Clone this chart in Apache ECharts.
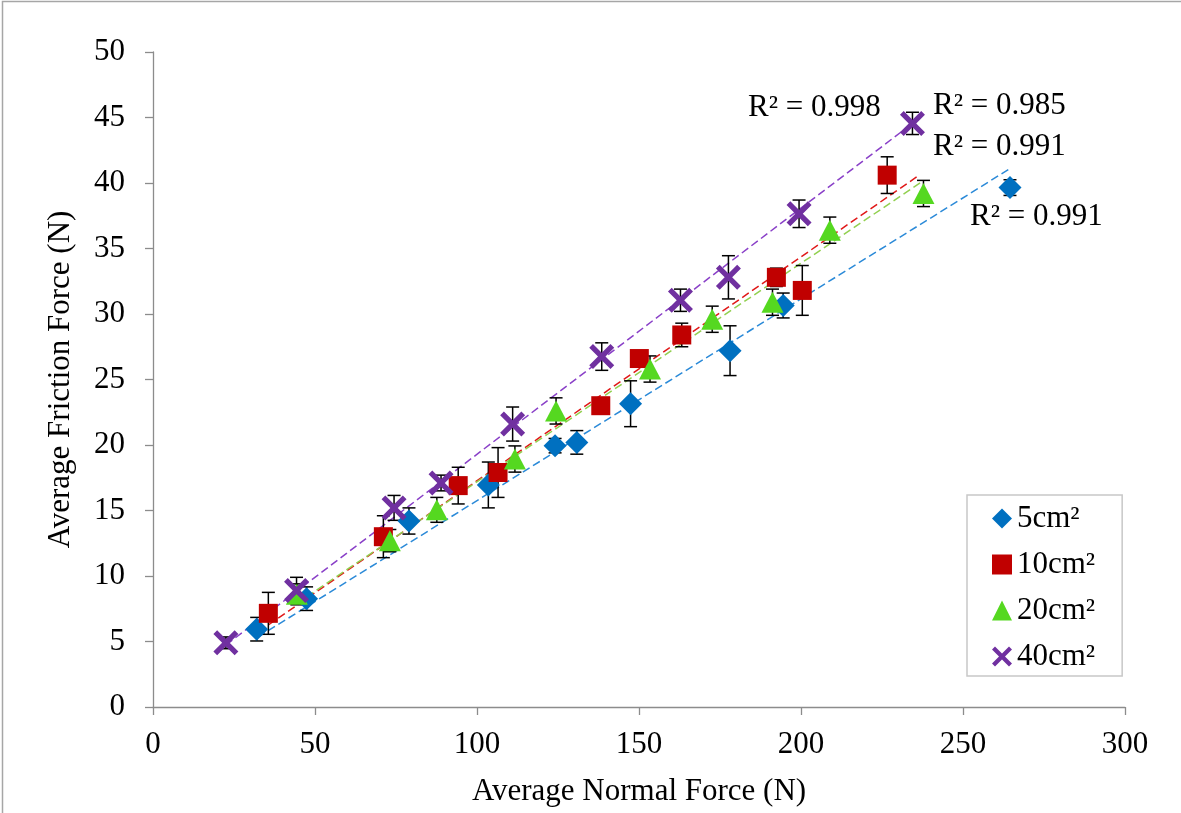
<!DOCTYPE html>
<html><head><meta charset="utf-8">
<script src="https://cdn.jsdelivr.net/npm/echarts@6/dist/echarts.min.js"></script>
<style>html,body{margin:0;padding:0;background:#fff}#c{width:1181px;height:813px}</style>
</head><body><div id="c"></div>
<script>
// ---- data ----
const seriesNames = ['5cm²', '10cm²', '20cm²', '40cm²'];

const x5   = [32.0, 47.4, 79.0, 103.5, 124.1, 130.8, 147.4, 178.1, 194.5, 264.5];
const y5   = [5.94, 8.27, 14.2, 16.95, 19.95, 20.2, 23.15, 27.2, 30.65, 39.65];
const e5   = [0.9, 0.9, 1.0, 1.75, 0.55, 0.9, 1.75, 1.9, 0.95, 0.6];

const x10  = [35.6, 71.1, 94.2, 106.5, 138.2, 150.1, 163.2, 192.4, 200.4, 226.6];
const y10  = [7.15, 13.0, 16.9, 17.9, 23.0, 26.6, 28.4, 32.8, 31.8, 40.6];
const e10  = [1.6, 1.6, 1.4, 1.9, 0.4, 0.5, 0.9, 0.7, 1.9, 1.4];

const x20  = [44.4, 73.1, 87.6, 111.7, 124.4, 153.4, 172.6, 191.2, 208.9, 237.8];
const y20  = [8.6, 12.7, 15.05, 18.93, 22.6, 25.8, 29.6, 30.9, 36.4, 39.2];
const e20  = [0.8, 0.85, 0.95, 1.0, 1.0, 1.0, 1.0, 1.0, 1.0, 1.0];

const x40  = [22.5, 44.3, 74.4, 88.9, 111.0, 138.5, 162.8, 177.6, 199.4, 234.4];
const y40  = [4.9, 8.9, 15.2, 17.1, 21.6, 26.75, 31.05, 32.8, 37.65, 44.55];
const e40  = [0.45, 1.0, 0.95, 0.6, 1.3, 1.05, 0.85, 1.65, 1.05, 0.85];

// linear trendlines (endpoints), one per series
const trendX0 = [32.4, 35.6, 44.35, 22.5];
const trendY0 = [5.34, 6.26, 7.9, 4.73];
const trendX1 = [264.5, 236.5, 237.8, 234.4];
const trendY1 = [41.1, 40.6, 40.18, 44.55];
const r2Labels = ['R² = 0.991', 'R² = 0.991', 'R² = 0.985', 'R² = 0.998'];

const xTicks = {min: 0, max: 300, interval: 50};
const yTicks = {min: 0, max: 50, interval: 5};

// ---- styling ----
const FONT = 'Liberation Serif';
const markerColors = ['#0070C0', '#C00000', '#55D820', '#7030A0'];
const trendColors  = ['#2B8AD8', '#E01818', '#92D050', '#8A40C8'];
const xPath = 'path://M0 3 L3 0 L10 7 L17 0 L20 3 L13 10 L20 17 L17 20 L10 13 L3 20 L0 17 L7 10 Z';
const symbols = ['diamond', 'rect', 'triangle', xPath];
const symSizes = [[23, 23], [19, 19], [22, 21], [25, 25]];

const xs = [x5, x10, x20, x40], ys = [y5, y10, y20, y40], es = [e5, e10, e20, e40];

function errRender(params, api) {
  const x = api.value(0), y = api.value(1), e = api.value(2);
  const t = api.coord([x, y + e]), b = api.coord([x, y - e]);
  const hw = 6.5;
  const st = {stroke: '#000', lineWidth: 1.5};
  return {type: 'group', children: [
    {type: 'line', shape: {x1: t[0], y1: t[1], x2: b[0], y2: b[1]}, style: st},
    {type: 'line', shape: {x1: t[0]-hw, y1: t[1], x2: t[0]+hw, y2: t[1]}, style: st},
    {type: 'line', shape: {x1: b[0]-hw, y1: b[1], x2: b[0]+hw, y2: b[1]}, style: st}
  ]};
}

const series = [];
for (let s = 0; s < 4; s++) {
  series.push({
    type: 'line', name: 'trend' + s,
    data: [[trendX0[s], trendY0[s]], [trendX1[s], trendY1[s]]],
    symbol: 'none', silent: true, z: 1,
    lineStyle: {color: trendColors[s], width: 1.5, type: [8, 4]}
  });
  series.push({
    type: 'custom', name: 'err' + s, renderItem: errRender, z: 2, silent: true,
    encode: {x: 0, y: 1},
    data: xs[s].map((v, i) => [v, ys[s][i], es[s][i]])
  });
}
for (let s = 0; s < 4; s++) {
  series.push({
    type: 'scatter', name: seriesNames[s], z: 3,
    symbol: symbols[s], symbolSize: symSizes[s],
    itemStyle: {color: markerColors[s], opacity: 1},
    data: xs[s].map((v, i) => [v, ys[s][i]])
  });
}

const chart = echarts.init(document.getElementById('c'), null, {renderer: 'canvas'});
const axisCommon = {
  splitLine: {show: false},
  axisLine: {show: true, lineStyle: {color: '#8c8c8c', width: 1.3}},
  axisTick: {show: true, inside: false, length: 8, lineStyle: {color: '#8c8c8c', width: 1.3}},
  nameTextStyle: {fontFamily: FONT, fontSize: 31, color: '#000'}
};
chart.setOption({
  animation: false,
  backgroundColor: '#fff',
  grid: {left: 153, right: 56, top: 52, bottom: 106, containLabel: false},
  xAxis: Object.assign({}, axisCommon, {
    type: 'value', min: xTicks.min, max: xTicks.max, interval: xTicks.interval,
    name: 'Average Normal Force (N)', nameLocation: 'middle', nameGap: 69,
    axisLabel: {fontFamily: FONT, fontSize: 31, color: '#000', margin: 22}
  }),
  yAxis: Object.assign({}, axisCommon, {
    type: 'value', min: yTicks.min, max: yTicks.max, interval: yTicks.interval,
    name: 'Average Friction Force (N)', nameLocation: 'middle', nameGap: 77,
    axisLabel: {fontFamily: FONT, fontSize: 31, color: '#000', margin: 28}
  }),
  legend: {
    data: seriesNames, orient: 'vertical', left: 967, top: 495,
    padding: [8, 27, 4, 25], itemGap: 15, itemWidth: 20, itemHeight: 20, itemTextGap: 4,
    borderColor: '#c8c8c8', borderWidth: 1.5,
    textStyle: {fontFamily: FONT, fontSize: 31, color: '#000', lineHeight: 29}
  },
  graphic: [
    {type: 'rect', shape: {x: 2.5, y: 1.5, width: 1200, height: 840}, style: {fill: 'none', stroke: '#a6a6a6', lineWidth: 1.5}, silent: true},
    {type: 'text', x: 748, y: 108, style: {text: r2Labels[3], fontFamily: FONT, fontSize: 31, fill: '#000', verticalAlign: 'middle'}},
    {type: 'text', x: 933, y: 106, style: {text: r2Labels[2], fontFamily: FONT, fontSize: 31, fill: '#000', verticalAlign: 'middle'}},
    {type: 'text', x: 933, y: 147, style: {text: r2Labels[1], fontFamily: FONT, fontSize: 31, fill: '#000', verticalAlign: 'middle'}},
    {type: 'text', x: 970, y: 217, style: {text: r2Labels[0], fontFamily: FONT, fontSize: 31, fill: '#000', verticalAlign: 'middle'}}
  ],
  series: series
});
</script></body></html>
